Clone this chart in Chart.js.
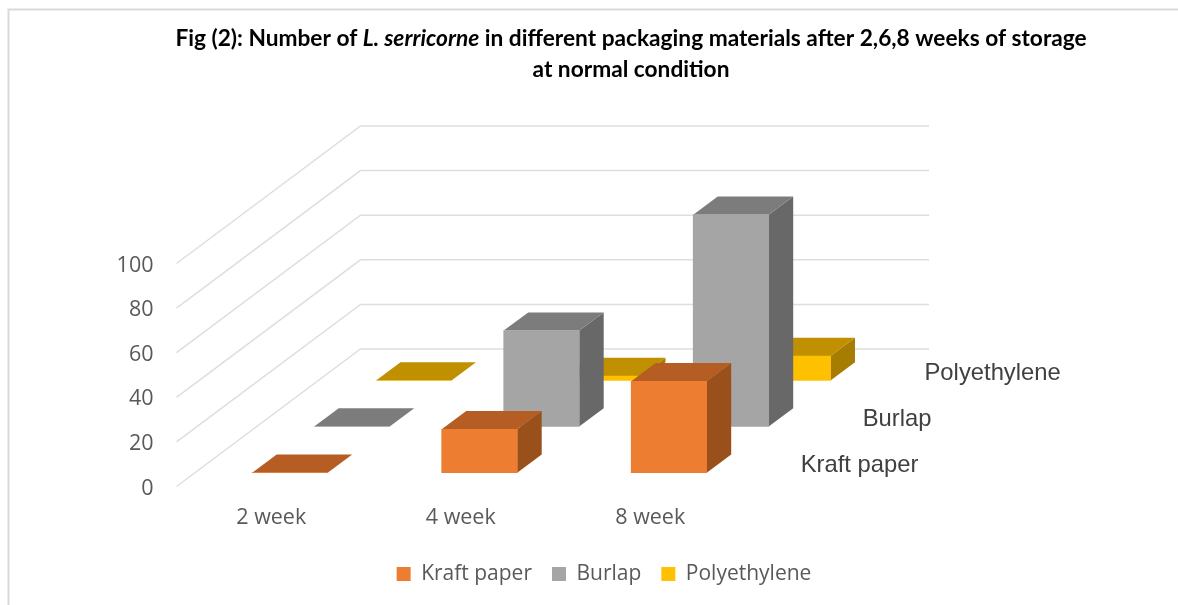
<!DOCTYPE html>
<html>
<head>
<meta charset="utf-8">
<title>Number of L. serricorne by packaging material</title>
<style>
  html, body { margin: 0; padding: 0; background: #fff; overflow: hidden; }
  canvas { display: block; }
</style>
</head>
<body>
<canvas id="myChart" width="1178" height="605"></canvas>
<script src="https://cdn.jsdelivr.net/npm/chart.js@4/dist/chart.umd.js"></script>
<script>
// data
const weeks = ["2 week", "4 week", "8 week"];
const kraftPaper = [0, 19.5, 41];
const burlap = [0, 43, 95];
const polyethylene = [0, 2, 11];
const seriesNames = ["Kraft paper", "Burlap", "Polyethylene"];

// title pieces, each line is a list of [text, italic]
const titleLines = [
    [["Fig (2): Number of ", false], ["L. serricorne", true], [" in different packaging materials after 2,6,8 weeks of storage", false]],
    [["at normal condition", false]]
];

// how far each row of bars sits back from the front plane
const rowShift = [
    { x: 18.7, y: -13.8 },
    { x: 80.7, y: -60 },
    { x: 142.5, y: -106 }
];
const wallShift = { x: 184, y: -137.5 };
const barDepth = { x: 24.5, y: -18.2 };

const frontColors = ["#ED7D31", "#A5A5A5", "#FFC000"];
const topColors = ["#B55D22", "#7C7C7C", "#C09000"];
const sideColors = ["#99501B", "#686868", "#A67D00"];
const gridColor = "#DEDEDE";

function face(ctx, pts, color) {
    ctx.fillStyle = color;
    ctx.beginPath();
    ctx.moveTo(pts[0][0], pts[0][1]);
    for (let i = 1; i < pts.length; i++) ctx.lineTo(pts[i][0], pts[i][1]);
    ctx.closePath();
    ctx.fill();
}

// fake 3D look: walls, shifted rows, top and side faces, depth labels
const box3d = {
    id: "box3d",
    afterLayout(chart) {
        // legend is centred on the whole canvas, not the narrow plot
        const lg = chart.legend;
        lg.left = 0;
        lg.right = 1208;
        lg.top = 543.5;
    },
    beforeDraw(chart) {
        const ctx = chart.ctx;
        ctx.save();
        ctx.strokeStyle = "#D9D9D9";
        ctx.lineWidth = 2;
        ctx.beginPath();
        ctx.moveTo(1178, 9.5);
        ctx.lineTo(8.5, 9.5);
        ctx.lineTo(8.5, 605);
        ctx.stroke();

        let y = 39;
        titleLines.forEach(line => {
            const fontFor = it => (it ? "italic " : "") + "bold 22.7px Lato, sans-serif";
            let total = 0;
            line.forEach(p => { ctx.font = fontFor(p[1]); total += ctx.measureText(p[0]).width; });
            let x = 631 - total / 2;
            ctx.fillStyle = "#000";
            ctx.textBaseline = "middle";
            ctx.textAlign = "left";
            line.forEach(p => {
                ctx.font = fontFor(p[1]);
                ctx.fillText(p[0], x, y);
                x += ctx.measureText(p[0]).width;
            });
            y += 31;
        });
        ctx.restore();
    },
    beforeDatasetsDraw(chart) {
        const ctx = chart.ctx, yScale = chart.scales.y, area = chart.chartArea;
        ctx.save();
        ctx.strokeStyle = gridColor;
        ctx.lineWidth = 1.5;
        yScale.ticks.forEach(t => {
            const py = yScale.getPixelForValue(t.value);
            ctx.beginPath();
            ctx.moveTo(area.left, py);
            ctx.lineTo(area.left + wallShift.x, py + wallShift.y);
            ctx.lineTo(area.right + wallShift.x, py + wallShift.y);
            ctx.stroke();
        });
        ctx.restore();
    },
    beforeDatasetDraw(chart, args) {
        const ctx = chart.ctx, i = args.index, s = rowShift[i];
        ctx.save();
        ctx.translate(s.x, s.y);
        args.meta.data.forEach(bar => {
            const p = bar.getProps(["x", "y", "base", "width"]);
            const l = p.x - p.width / 2, r = p.x + p.width / 2;
            const d = barDepth;
            if (p.base > p.y) {
                face(ctx, [[r, p.y], [r, p.base], [r + d.x, p.base + d.y], [r + d.x, p.y + d.y]], sideColors[i]);
            }
            face(ctx, [[l, p.y], [r, p.y], [r + d.x, p.y + d.y], [l + d.x, p.y + d.y]], topColors[i]);
        });
    },
    afterDatasetDraw(chart) {
        chart.ctx.restore();
    },
    afterDatasetsDraw(chart) {
        const ctx = chart.ctx, area = chart.chartArea;
        ctx.save();
        ctx.font = "23.8px 'Liberation Sans', sans-serif";
        ctx.fillStyle = "#404040";
        ctx.textAlign = "left";
        ctx.textBaseline = "middle";
        seriesNames.forEach((name, i) => {
            ctx.fillText(name, area.right + rowShift[i].x + 37, area.bottom + rowShift[i].y - 7);
        });
        ctx.restore();
    }
};

const ctx = document.getElementById("myChart").getContext("2d");
new Chart(ctx, {
    type: "bar",
    data: {
        labels: weeks,
        datasets: [
            { label: seriesNames[0], data: kraftPaper, backgroundColor: frontColors[0] },
            { label: seriesNames[1], data: burlap, backgroundColor: frontColors[1] },
            { label: seriesNames[2], data: polyethylene, backgroundColor: frontColors[2] }
        ]
    },
    options: {
        responsive: false,
        animation: false,
        events: [],
        clip: false,
        layout: { padding: { left: 0, right: 433, top: 263.5, bottom: 19.5 } },
        datasets: { bar: { grouped: false, barThickness: 75.5, clip: false, borderWidth: 0 } },
        scales: {
            x: {
                grid: { display: false, drawTicks: false },
                border: { display: false },
                ticks: { color: "#595959", font: { family: "'Open Sans'", size: 21.5 }, padding: 18.5, maxRotation: 0 },
                afterFit(scale) { scale.height = 48; }
            },
            y: {
                min: 0,
                max: 100,
                grid: { display: false, drawTicks: false },
                border: { display: false },
                ticks: { stepSize: 20, color: "#595959", font: { family: "'Open Sans'", size: 21.5 }, padding: 23, labelOffset: 2 },
                afterFit(scale) { scale.width = 176.5; }
            }
        },
        plugins: {
            title: { display: false },
            tooltip: { enabled: false },
            legend: {
                position: "bottom",
                labels: {
                    boxWidth: 14,
                    boxHeight: 14,
                    padding: 20,
                    color: "#595959",
                    font: { family: "'Open Sans'", size: 21 }
                }
            }
        }
    },
    plugins: [box3d]
});
</script>
</body>
</html>
